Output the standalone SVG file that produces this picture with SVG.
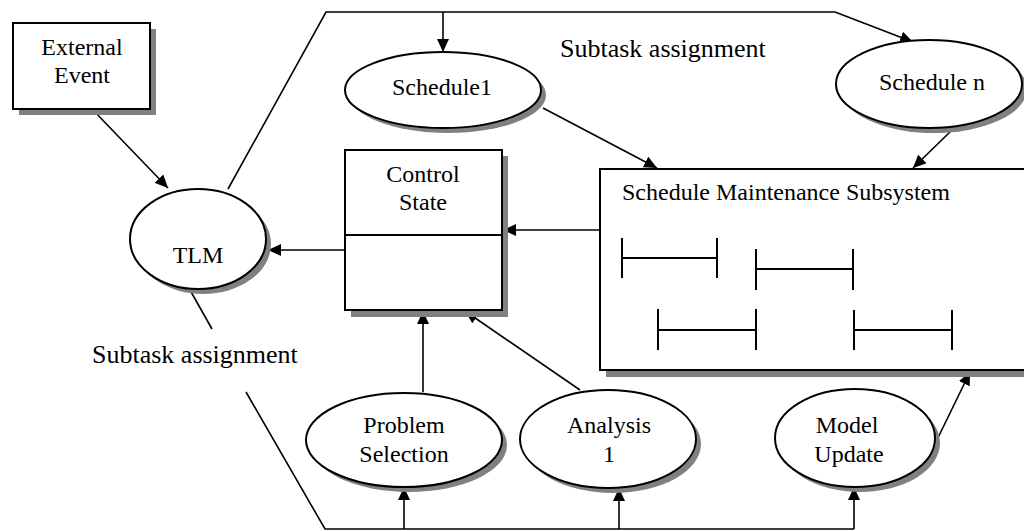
<svg xmlns="http://www.w3.org/2000/svg" width="1024" height="531" viewBox="0 0 1024 531">
  <style>
    text { font-family: "Liberation Serif", "Times New Roman", serif; fill: #000; }
    .lbl { font-size: 24px; text-anchor: middle; }
    .big { font-size: 26px; }
    .shape { fill: #fff; stroke: #000; stroke-width: 2; }
    .shadow { fill: #808080; stroke: none; }
    .ln { fill: none; stroke: #000; stroke-width: 1.6; }
    .arr { fill: none; stroke: #000; stroke-width: 1.6; marker-end: url(#head); }
    .bar { fill: none; stroke: #000; stroke-width: 2; }
  </style>
  <defs>
    <marker id="head" viewBox="0 0 13 12" refX="13" refY="6" markerUnits="userSpaceOnUse" markerWidth="13" markerHeight="12" orient="auto">
      <path d="M0,0 L13,6 L0,12 Z" fill="#000"/>
    </marker>
  </defs>

  <rect width="1024" height="531" fill="#fff"/>

  <!-- free-standing labels -->
  <text class="big" x="560" y="57">Subtask assignment</text>
  <text class="big" x="92" y="363">Subtask assignment</text>

  <!-- connectors -->
  <g id="connectors">
    <!-- upper assignment path from TLM to the schedules -->
    <polyline class="ln" points="228,189 326,12 835,12"/>
    <line class="arr" x1="443" y1="12" x2="443" y2="52"/>
    <line class="arr" x1="835" y1="12" x2="913" y2="42"/>
    <!-- lower assignment path from TLM to the problem solvers -->
    <line class="ln" x1="190" y1="290" x2="212" y2="329"/>
    <polyline class="ln" points="246,392 325,529 854,529"/>
    <line class="arr" x1="404" y1="529" x2="404" y2="487"/>
    <line class="arr" x1="619" y1="529" x2="619" y2="488"/>
    <line class="arr" x1="854" y1="529" x2="854" y2="487"/>
    <!-- data flows -->
    <line class="arr" x1="92" y1="109" x2="168" y2="188"/>
    <line class="arr" x1="345" y1="250" x2="268" y2="250"/>
    <line class="arr" x1="600" y1="230" x2="503" y2="230"/>
    <line class="arr" x1="543" y1="108" x2="657" y2="168"/>
    <line class="arr" x1="952" y1="130" x2="913" y2="168"/>
    <line class="arr" x1="423" y1="392" x2="423" y2="311"/>
    <line class="arr" x1="580" y1="390" x2="465" y2="311"/>
    <line class="arr" x1="933" y1="448" x2="970" y2="372"/>
  </g>

  <g id="external-event">
    <rect class="shadow" x="19" y="29" width="137" height="86"/>
    <rect class="shape" x="13" y="23" width="137" height="86"/>
    <text class="lbl" x="82" y="55">External</text>
    <text class="lbl" x="82" y="83">Event</text>
  </g>

  <g id="tlm">
    <ellipse class="shadow" cx="203" cy="244" rx="68" ry="50"/>
    <ellipse class="shape" cx="198" cy="239" rx="68" ry="50"/>
    <text class="lbl" x="198" y="263">TLM</text>
  </g>

  <g id="schedule1">
    <ellipse class="shadow" cx="448" cy="95" rx="98" ry="38"/>
    <ellipse class="shape" cx="443" cy="90" rx="98" ry="38"/>
    <text class="lbl" x="442" y="95">Schedule1</text>
  </g>

  <g id="schedule-n">
    <ellipse class="shadow" cx="934" cy="89" rx="93" ry="44"/>
    <ellipse class="shape" cx="929" cy="84" rx="93" ry="44"/>
    <text class="lbl" x="932" y="90">Schedule n</text>
  </g>

  <g id="control-state">
    <rect class="shadow" x="351" y="156" width="157" height="161"/>
    <rect class="shape" x="345" y="150" width="157" height="160"/>
    <line class="bar" x1="345" y1="235" x2="502" y2="235"/>
    <text class="lbl" x="423" y="182">Control</text>
    <text class="lbl" x="423" y="210">State</text>
  </g>

  <g id="schedule-maintenance">
    <rect class="shadow" x="606" y="175" width="440" height="202"/>
    <rect class="shape" x="600" y="169" width="440" height="201"/>
    <text font-size="24" x="622" y="200">Schedule Maintenance Subsystem</text>
    <!-- schedule bars -->
    <path class="bar" d="M622,238 V278 M622,258 H717 M717,238 V278"/>
    <path class="bar" d="M756,249 V290 M756,269 H853 M853,249 V290"/>
    <path class="bar" d="M658,309 V350 M658,330 H756 M756,309 V350"/>
    <path class="bar" d="M854,310 V350 M854,330 H952 M952,310 V350"/>
  </g>

  <g id="problem-selection">
    <ellipse class="shadow" cx="409" cy="445" rx="98" ry="47"/>
    <ellipse class="shape" cx="404" cy="440" rx="98" ry="47"/>
    <text class="lbl" x="404" y="433">Problem</text>
    <text class="lbl" x="404" y="462">Selection</text>
  </g>

  <g id="analysis-1">
    <ellipse class="shadow" cx="613" cy="444" rx="88" ry="49"/>
    <ellipse class="shape" cx="608" cy="439" rx="88" ry="49"/>
    <text class="lbl" x="609" y="433">Analysis</text>
    <text class="lbl" x="609" y="462">1</text>
  </g>

  <g id="model-update">
    <ellipse class="shadow" cx="860" cy="443" rx="80" ry="49"/>
    <ellipse class="shape" cx="855" cy="438" rx="80" ry="49"/>
    <text class="lbl" x="847" y="433">Model</text>
    <text class="lbl" x="849" y="462">Update</text>
  </g>
</svg>
